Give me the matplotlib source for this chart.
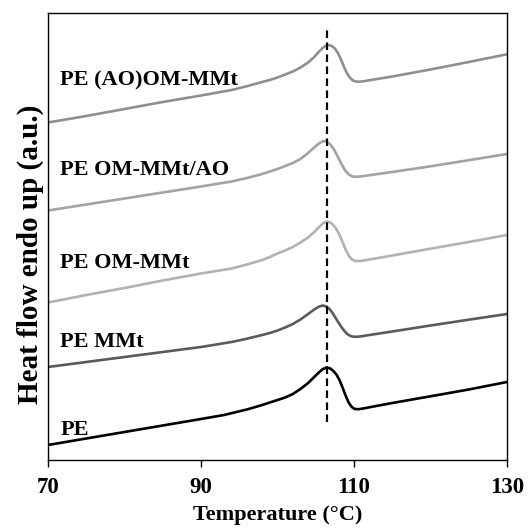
import matplotlib
matplotlib.use("Agg")
import matplotlib.pyplot as plt

# ---- data ----
T_pe = [70, 75, 80, 85, 90, 93, 96, 98, 100, 101, 102, 103, 104, 104.8, 105.4, 105.9, 106.4, 106.9, 107.3, 107.7, 108.1, 108.5, 108.9, 109.3, 109.7, 110.1, 110.6, 111.2, 112, 115, 120, 125, 130]
h_pe = [15, 21.5, 28, 34.5, 41, 45, 50.5, 55, 60, 62.5, 66, 71, 77, 83, 87.5, 90.8, 92.5, 91.5, 89, 85.5, 80, 72.5, 64.5, 57.5, 53, 51, 50.8, 51.5, 52.7, 57, 63.7, 70.5, 78]

T_mmt = [70, 75, 80, 85, 90, 94, 96, 98, 99, 100, 101, 102, 103, 104, 104.8, 105.4, 105.9, 106.4, 106.8, 107.2, 107.6, 108, 108.4, 108.8, 109.2, 109.6, 110, 110.6, 111.2, 112, 115, 120, 125, 130]
h_mmt = [93, 98, 103, 108, 113, 118, 121.3, 125, 127, 129.5, 132.5, 136, 140.5, 146, 150.5, 153.3, 154.5, 153.5, 151, 147, 142, 137, 132.5, 128.5, 125.5, 123.8, 123.2, 123.3, 124, 125, 128.5, 134.5, 140.3, 146]

T_om = [70, 75, 80, 85, 90, 94, 96, 98, 99, 100, 101, 102, 103, 104, 104.8, 105.5, 106, 106.5, 106.9, 107.3, 107.7, 108.1, 108.5, 108.9, 109.3, 109.7, 110.2, 110.8, 111.5, 113, 115, 120, 125, 130]
h_om = [157.5, 165, 172, 179.5, 186.5, 191.5, 195.5, 200, 203, 206.5, 209.5, 213, 217.5, 222.5, 228, 233.5, 237, 238.5, 237.5, 235, 231, 225, 218, 210.5, 204.5, 200.7, 199, 199, 199.8, 201.8, 204.5, 211.3, 218, 225]

T_omao = [70, 75, 80, 85, 90, 94, 96, 98, 99, 100, 101, 102, 103, 104, 104.8, 105.4, 106, 106.5, 106.9, 107.3, 107.7, 108.1, 108.5, 108.9, 109.3, 109.8, 110.4, 111, 112, 115, 120, 125, 130]
h_omao = [249.5, 255.5, 261.5, 267.5, 273.5, 278.5, 282, 286, 288.5, 291, 294, 297, 301, 307, 312.5, 316.5, 319, 318, 315.5, 311.5, 306, 300, 294, 289, 285.7, 283.5, 283.2, 283.7, 284.8, 288, 293.7, 299.8, 306]

T_aoom = [70, 75, 80, 85, 90, 94, 96, 98, 99, 100, 101, 102, 103, 104, 104.8, 105.5, 106.1, 106.6, 107.1, 107.5, 107.9, 108.3, 108.7, 109.1, 109.5, 109.9, 110.4, 111, 112, 113.4, 115, 120, 125, 130]
h_aoom = [337.5, 344, 351, 358, 364.5, 370, 373.8, 378, 380, 382.5, 385.5, 388.5, 392.5, 397.5, 403, 409, 413.3, 415, 414, 411.5, 407, 400.5, 393, 386.5, 382, 379.3, 378.3, 378.5, 379.7, 381.5, 383.5, 390.5, 398, 405.7]

labels = ["PE", "PE MMt", "PE OM-MMt", "PE OM-MMt/AO", "PE (AO)OM-MMt"]
label_h = [30, 118, 197, 290, 380]
peak_T = 106.5
peak_line_h = [38, 430]
xticks = [70, 90, 110, 130]

series = [(T_pe, h_pe), (T_mmt, h_mmt), (T_om, h_om), (T_omao, h_omao), (T_aoom, h_aoom)]
colors = ["#000000", "#5a5a5a", "#b2b2b2", "#a3a3a3", "#8f8f8f"]

plt.rcParams['font.family'] = ['Liberation Serif', 'DejaVu Serif']
plt.rcParams['font.weight'] = 'bold'

fig = plt.figure(figsize=(5.28, 5.30), dpi=100)
ax = fig.add_axes([48/528, 70/530, 459/528, 447/530])

for (T, h), c in zip(series, colors):
    ax.plot(T, h, color=c, lw=1.9, solid_joinstyle='round')

ax.plot([peak_T, peak_T], peak_line_h, color='black', lw=1.6, linestyle=(0, (3.4, 2.0)))

for lab, y in zip(labels, label_h):
    ax.text(71.6, y, lab, fontsize=16, fontweight='bold', va='center', ha='left')

ax.set_xlim(70, 130)
ax.set_ylim(0, 447)
ax.set_xticks(xticks)
ax.set_xticklabels([str(v) for v in xticks], fontsize=16.5, fontweight='bold')
ax.set_yticks([])
ax.tick_params(axis='x', direction='out', length=5, width=1, pad=7)
for s in ax.spines.values():
    s.set_linewidth(1)
ax.set_xlabel("Temperature (°C)", fontsize=16, fontweight='bold', labelpad=5)
ax.set_ylabel("Heat flow endo up (a.u.)", fontsize=21, fontweight='bold')
ax.yaxis.set_label_coords(-0.008, 0.46)

fig.savefig("out.png", dpi=100)
